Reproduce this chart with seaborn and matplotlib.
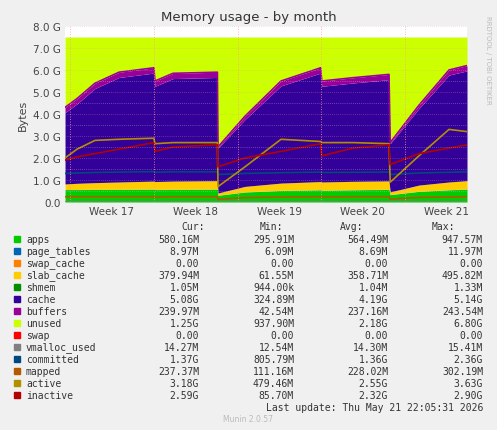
import numpy as np
import pandas as pd
import matplotlib
matplotlib.use("Agg")
import matplotlib.pyplot as plt
import seaborn as sns

sns.set_theme(style="white")
plt.rcParams['font.family'] = ['DejaVu Sans']

# time axis in days since start
days = [0, 1.0, 2.5, 4.5, 7.4, 7.5, 9.0, 12.7, 12.75, 15.0, 18.0, 21.3, 21.4, 24.0, 27.0, 27.1, 29.5, 32.0, 33.5]
# values in GB
apps        = [0.56, 0.56, 0.57, 0.57, 0.58, 0.56, 0.57, 0.58, 0.30, 0.45, 0.52, 0.55, 0.53, 0.55, 0.57, 0.33, 0.48, 0.55, 0.58]
page_tables = [0.009]*19
swap_cache  = [0.0]*19
slab_cache  = [0.25, 0.28, 0.30, 0.33, 0.36, 0.36, 0.37, 0.38, 0.10, 0.25, 0.33, 0.37, 0.37, 0.38, 0.38, 0.12, 0.28, 0.35, 0.38]
shmem       = [0.001]*19
cache_top   = [4.30, 4.70, 5.40, 5.90, 6.10, 5.50, 5.85, 5.90, 2.50, 3.90, 5.50, 6.10, 5.50, 5.65, 5.80, 2.70, 4.40, 6.00, 6.20]
buffers     = [0.24, 0.24, 0.24, 0.24, 0.24, 0.24, 0.24, 0.24, 0.05, 0.15, 0.22, 0.24, 0.24, 0.24, 0.24, 0.05, 0.15, 0.23, 0.24]
total       = 7.5
swap        = [0.0]*19
vmalloc     = [0.014]*19
committed   = [1.30, 1.32, 1.34, 1.36, 1.38, 1.35, 1.37, 1.37, 1.25, 1.30, 1.33, 1.36, 1.34, 1.35, 1.36, 1.25, 1.32, 1.35, 1.37]
mapped      = [0.24, 0.24, 0.24, 0.24, 0.24, 0.23, 0.24, 0.24, 0.12, 0.20, 0.23, 0.24, 0.23, 0.24, 0.24, 0.13, 0.21, 0.23, 0.24]
active      = [2.00, 2.40, 2.80, 2.85, 2.90, 2.65, 2.70, 2.70, 0.70, 1.60, 2.85, 2.75, 2.70, 2.70, 2.65, 0.90, 2.10, 3.30, 3.20]
inactive    = [1.90, 2.05, 2.20, 2.40, 2.70, 2.30, 2.50, 2.60, 1.60, 2.00, 2.30, 2.65, 2.10, 2.45, 2.60, 1.70, 2.20, 2.45, 2.60]

weeks = ["Week 17", "Week 18", "Week 19", "Week 20", "Week 21"]
week_bounds = [0.4, 7.4, 14.4, 21.3, 28.3, 35.3]

names = ["apps","page_tables","swap_cache","slab_cache","shmem","cache","buffers","unused","swap",
         "vmalloc_used","committed","mapped","active","inactive"]
colors = ["#00CC00","#0066B3","#FF8000","#FFCC00","#008F00","#330099","#990099","#CCFF00","#FF0000",
          "#808080","#00487D","#B35A00","#B38F00","#B30000"]
cur = ["580.16M","8.97M","0.00","379.94M","1.05M","5.08G","239.97M","1.25G","0.00","14.27M","1.37G","237.37M","3.18G","2.59G"]
mn  = ["295.91M","6.09M","0.00","61.55M","944.00k","324.89M","42.54M","937.90M","0.00","12.54M","805.79M","111.16M","479.46M","85.70M"]
avg = ["564.49M","8.69M","0.00","358.71M","1.04M","4.19G","237.16M","2.18G","0.00","14.30M","1.36G","228.02M","2.55G","2.32G"]
mx  = ["947.57M","11.97M","0.00","495.82M","1.33M","5.14G","243.54M","6.80G","0.00","15.41M","2.36G","302.19M","3.63G","2.90G"]

d = np.array(days)
a = np.array(apps); pt = np.array(page_tables); sc = np.array(swap_cache); sl = np.array(slab_cache)
sh = np.array(shmem); bu = np.array(buffers); ct = np.array(cache_top)
cache = ct - bu - a - pt - sc - sl - sh
unused = total - ct
layers = [a, pt, sc, sl, sh, cache, bu, unused, np.array(swap)]

fig = plt.figure(figsize=(4.97, 4.31), dpi=100, facecolor="#F0F0F0")
ax = fig.add_axes([65/497, 1-203/431, 402/497, 176/431])
ax.set_facecolor("#FFFFFF")
ax.stackplot(d, *layers, colors=colors[:9], linewidth=0)
# top borders of stack for buffers
sns.lineplot(x=d, y=ct, ax=ax, color="#990099", lw=1.2)
for vals, c in zip([vmalloc, committed, mapped, active, inactive], colors[9:]):
    sns.lineplot(x=d, y=np.array(vals), ax=ax, color=c, lw=1.2)

ax.set_xlim(0, 33.5)
ax.set_ylim(0, 8)
ax.set_yticks(np.arange(0, 9))
ax.set_yticklabels(["0.0"] + [f"{i}.0 G" for i in range(1, 9)], fontsize=7.5, color="#444444")
centers = [(week_bounds[i]+week_bounds[i+1])/2 for i in range(5)]
ax.set_xticks(centers)
ax.set_xticklabels(weeks, fontsize=7.5, color="#444444")
ax.tick_params(axis="x", length=0, pad=3)
ax.tick_params(axis="y", length=0, pad=3)
for wb in week_bounds:
    ax.axvline(wb, color="#FF9999", lw=0.6, ls=(0, (1, 2)))
for y in np.arange(0, 8.01, 0.5):
    ax.axhline(y, color="#E0A0A0" if y % 1 == 0 else "#DDDDDD", lw=0.5, ls=(0, (1, 2)), zorder=3, alpha=0.6)
for s in ax.spines.values():
    s.set_visible(False)
ax.set_ylabel("Bytes", fontsize=8, color="#444444")
ax.set_xlabel("")

fig.text(0.5, 1-18/431, "Memory usage - by month", ha="center", va="center", fontsize=9.5, color="#333333")
fig.text(488/497, 1-60/431, "RRDTOOL / TOBI OETIKER", rotation=270, ha="center", va="center", fontsize=5, color="#BBBBBB")

mono = "DejaVu Sans Mono"
fs = 7
hy = 227
for x, t in [(205, "Cur:"), (283, "Min:"), (363, "Avg:"), (455, "Max:")]:
    fig.text(x/497, 1-hy/431, t, ha="right", va="center", fontsize=fs, family=mono, color="#333333")
for i, n in enumerate(names):
    y = 240 + i*12.0
    fig.patches.append(plt.Rectangle((14/497, 1-(y+3)/431), 6/497, 6/431, transform=fig.transFigure, color=colors[i]))
    fig.text(26/497, 1-y/431, n, ha="left", va="center", fontsize=fs, family=mono, color="#333333")
    for x, v in [(199, cur[i]), (294, mn[i]), (388, avg[i]), (483, mx[i])]:
        fig.text(x/497, 1-y/431, v, ha="right", va="center", fontsize=fs, family=mono, color="#333333")
fig.text(483/497, 1-408/431, "Last update: Thu May 21 22:05:31 2026", ha="right", va="center", fontsize=fs, family=mono, color="#333333")
fig.text(248/497, 1-420/431, "Munin 2.0.57", ha="center", va="center", fontsize=5.5, color="#BBBBBB")

fig.savefig("out.png", dpi=100, facecolor=fig.get_facecolor())
